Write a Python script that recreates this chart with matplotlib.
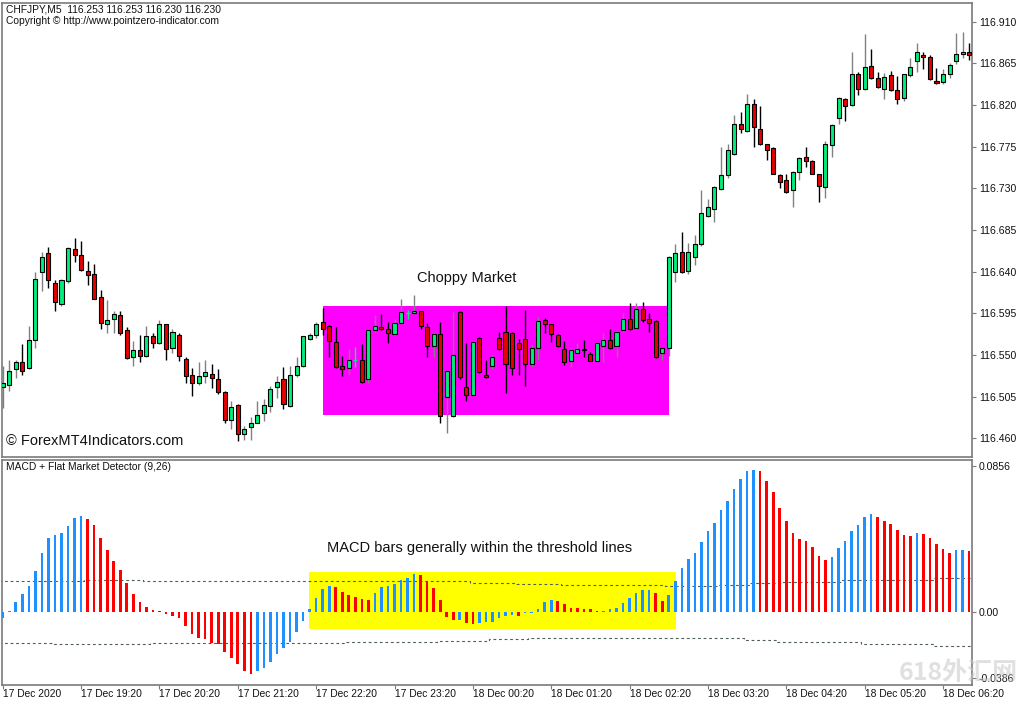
import numpy as np
import matplotlib
matplotlib.use('Agg')
import matplotlib.pyplot as plt
from matplotlib.patches import Rectangle

plt.rcParams['font.family'] = ['Liberation Sans', 'DejaVu Sans']

# ---------------- data ----------------
open_ = [116.515, 116.518, 116.535, 116.542, 116.536, 116.566, 116.640, 116.660, 116.628, 116.605,
         116.630, 116.665, 116.658, 116.641, 116.638, 116.613, 116.583, 116.589, 116.593, 116.577,
         116.548, 116.555, 116.549, 116.570, 116.563, 116.583, 116.557, 116.572, 116.546, 116.528,
         116.520, 116.527, 116.529, 116.524, 116.510, 116.480, 116.496, 116.465, 116.472, 116.477,
         116.487, 116.495, 116.515, 116.524, 116.495, 116.528, 116.538, 116.567, 116.572, 116.586,
         116.581, 116.564, 116.538, 116.536, 116.545, 116.545, 116.524, 116.577, 116.580, 116.578,
         116.573, 116.585, 116.595, 116.595, 116.597, 116.580, 116.560, 116.573, 116.505, 116.484,
         116.596, 116.515, 116.507, 116.568, 116.528, 116.538, 116.568, 116.575, 116.574, 116.563,
         116.567, 116.540, 116.557, 116.588, 116.583, 116.572, 116.556, 116.544, 116.552, 116.556,
         116.551, 116.544, 116.560, 116.566, 116.560, 116.577, 116.589, 116.579, 116.600, 116.589,
         116.587, 116.552, 116.557, 116.640, 116.661, 116.641, 116.656, 116.670, 116.700, 116.708,
         116.729, 116.744, 116.767, 116.800, 116.792, 116.821, 116.794, 116.778, 116.774, 116.744,
         116.739, 116.728, 116.748, 116.764, 116.760, 116.745, 116.731, 116.777, 116.806, 116.827,
         116.820, 116.853, 116.837, 116.862, 116.849, 116.837, 116.852, 116.836, 116.828, 116.852,
         116.868, 116.874, 116.872, 116.846, 116.845, 116.853, 116.868, 116.875, 116.877]
high = [116.538, 116.545, 116.545, 116.562, 116.581, 116.640, 116.661, 116.667, 116.631, 116.632,
        116.667, 116.676, 116.673, 116.651, 116.648, 116.620, 116.609, 116.598, 116.598, 116.580,
        116.565, 116.572, 116.581, 116.574, 116.588, 116.584, 116.578, 116.574, 116.548, 116.536,
        116.542, 116.545, 116.540, 116.535, 116.511, 116.500, 116.497, 116.473, 116.483, 116.500,
        116.502, 116.516, 116.527, 116.537, 116.538, 116.548, 116.571, 116.574, 116.586, 116.601,
        116.582, 116.580, 116.549, 116.556, 116.559, 116.562, 116.578, 116.593, 116.594, 116.586,
        116.589, 116.610, 116.599, 116.615, 116.598, 116.585, 116.575, 116.586, 116.534, 116.596,
        116.597, 116.563, 116.565, 116.569, 116.545, 116.550, 116.575, 116.603, 116.575, 116.567,
        116.599, 116.561, 116.591, 116.590, 116.584, 116.573, 116.565, 116.557, 116.563, 116.566,
        116.553, 116.564, 116.574, 116.578, 116.577, 116.595, 116.606, 116.606, 116.607, 116.595,
        116.588, 116.558, 116.657, 116.670, 116.683, 116.671, 116.680, 116.728, 116.718, 116.732,
        116.775, 116.778, 116.809, 116.812, 116.832, 116.827, 116.819, 116.778, 116.775, 116.746,
        116.746, 116.749, 116.764, 116.775, 116.761, 116.746, 116.781, 116.799, 116.829, 116.828,
        116.877, 116.856, 116.897, 116.881, 116.856, 116.855, 116.857, 116.851, 116.854, 116.871,
        116.887, 116.877, 116.874, 116.860, 116.859, 116.865, 116.898, 116.899, 116.887]
low = [116.493, 116.511, 116.525, 116.528, 116.535, 116.558, 116.619, 116.622, 116.598, 116.603,
       116.628, 116.650, 116.641, 116.626, 116.610, 116.578, 116.574, 116.574, 116.572, 116.546,
       116.538, 116.542, 116.548, 116.557, 116.562, 116.545, 116.552, 116.543, 116.520, 116.506,
       116.518, 116.520, 116.514, 116.508, 116.477, 116.470, 116.457, 116.458, 116.458, 116.476,
       116.479, 116.488, 116.504, 116.492, 116.494, 116.526, 116.537, 116.566, 116.568, 116.572,
       116.548, 116.536, 116.527, 116.529, 116.537, 116.520, 116.520, 116.575, 116.577, 116.563,
       116.572, 116.584, 116.589, 116.594, 116.578, 116.548, 116.548, 116.476, 116.466, 116.483,
       116.524, 116.500, 116.506, 116.531, 116.525, 116.535, 116.555, 116.509, 116.528, 116.528,
       116.517, 116.537, 116.545, 116.574, 116.564, 116.559, 116.539, 116.537, 116.551, 116.548,
       116.543, 116.543, 116.542, 116.556, 116.548, 116.575, 116.577, 116.578, 116.586, 116.575,
       116.547, 116.545, 116.549, 116.629, 116.639, 116.638, 116.647, 116.668, 116.699, 116.694,
       116.728, 116.741, 116.766, 116.790, 116.791, 116.775, 116.777, 116.761, 116.745, 116.730,
       116.725, 116.710, 116.739, 116.753, 116.745, 116.715, 116.720, 116.764, 116.800, 116.803,
       116.819, 116.831, 116.836, 116.848, 116.838, 116.827, 116.835, 116.821, 116.824, 116.850,
       116.856, 116.859, 116.847, 116.843, 116.843, 116.849, 116.864, 116.871, 116.869]
close = [116.520, 116.533, 116.542, 116.533, 116.566, 116.632, 116.656, 116.631, 116.607, 116.631,
         116.666, 116.658, 116.642, 116.636, 116.611, 116.585, 116.588, 116.594, 116.574, 116.547,
         116.555, 116.549, 116.571, 116.563, 116.583, 116.556, 116.575, 116.549, 116.527, 116.520,
         116.527, 116.532, 116.525, 116.510, 116.480, 116.494, 116.465, 116.470, 116.476, 116.485,
         116.496, 116.513, 116.521, 116.497, 116.528, 116.538, 116.570, 116.572, 116.583, 116.578,
         116.565, 116.537, 116.535, 116.545, 116.545, 116.521, 116.577, 116.581, 116.578, 116.574,
         116.585, 116.596, 116.595, 116.597, 116.581, 116.560, 116.573, 116.484, 116.533, 116.550,
         116.526, 116.507, 116.564, 116.532, 116.526, 116.548, 116.556, 116.540, 116.536, 116.556,
         116.540, 116.557, 116.587, 116.583, 116.573, 116.560, 116.542, 116.555, 116.556, 116.555,
         116.544, 116.563, 116.566, 116.557, 116.575, 116.589, 116.578, 116.600, 116.588, 116.585,
         116.548, 116.557, 116.656, 116.660, 116.640, 116.661, 116.670, 116.703, 116.710, 116.731,
         116.744, 116.771, 116.800, 116.794, 116.821, 116.796, 116.778, 116.771, 116.746, 116.737,
         116.726, 116.748, 116.763, 116.760, 116.746, 116.732, 116.778, 116.798, 116.828, 116.819,
         116.853, 116.837, 116.861, 116.849, 116.839, 116.850, 116.836, 116.827, 116.853, 116.861,
         116.877, 116.872, 116.848, 116.844, 116.853, 116.863, 116.875, 116.877, 116.874]

macd = [-0.0035, 0.0006, 0.0062, 0.0105, 0.0152, 0.0240, 0.0348, 0.0437, 0.0454, 0.0464,
        0.0506, 0.0552, 0.0565, 0.0545, 0.0512, 0.0437, 0.0365, 0.0300, 0.0248, 0.0174,
        0.0105, 0.0058, 0.0033, 0.0014, 0.0008, -0.0008, -0.0020, -0.0035, -0.0078, -0.0129,
        -0.0148, -0.0158, -0.0177, -0.0186, -0.0230, -0.0265, -0.0305, -0.0344, -0.0363, -0.0343,
        -0.0328, -0.0289, -0.0246, -0.0207, -0.0172, -0.0117, -0.0051, 0.0020, 0.0082, 0.0137,
        0.0154, 0.0146, 0.0121, 0.0101, 0.0088, 0.0076, 0.0072, 0.0115, 0.0148, 0.0156,
        0.0164, 0.0189, 0.0203, 0.0224, 0.0218, 0.0183, 0.0144, 0.0072, -0.0029, -0.0045,
        -0.0043, -0.0060, -0.0070, -0.0062, -0.0058, -0.0055, -0.0035, -0.0021, -0.0016, -0.0019,
        -0.0006, -0.0002, 0.0018, 0.0060, 0.0072, 0.0068, 0.0047, 0.0027, 0.0023, 0.0022,
        0.0018, 0.0006, 0.0008, 0.0018, 0.0027, 0.0057, 0.0086, 0.0111, 0.0131, 0.0133,
        0.0111, 0.0066, 0.0101, 0.0184, 0.0259, 0.0310, 0.0347, 0.0413, 0.0476, 0.0521,
        0.0596, 0.0653, 0.0723, 0.0782, 0.0829, 0.0835, 0.0825, 0.0768, 0.0702, 0.0608,
        0.0532, 0.0462, 0.0427, 0.0415, 0.0380, 0.0328, 0.0304, 0.0322, 0.0376, 0.0415,
        0.0476, 0.0509, 0.0556, 0.0577, 0.0560, 0.0536, 0.0515, 0.0480, 0.0450, 0.0449,
        0.0462, 0.0456, 0.0433, 0.0398, 0.0371, 0.0345, 0.0363, 0.0367, 0.0357]

# flat-market threshold lines (bar index where each level starts, level)
upper_start = [0, 13, 22, 72, 79, 86, 102, 110, 115, 120, 129, 143]
upper_level = [0.0185, 0.0189, 0.0184, 0.0172, 0.0166, 0.0157, 0.0155, 0.0160, 0.0170, 0.0179, 0.0188, 0.0199]
lower_start = [0, 8, 23, 53, 67, 75, 81, 114, 119, 132, 143]
lower_level = [-0.0181, -0.0187, -0.0181, -0.0176, -0.0168, -0.0157, -0.0149, -0.0162, -0.0176, -0.0187, -0.0195]

price_ticks = [116.910, 116.865, 116.820, 116.775, 116.730, 116.685, 116.640,
               116.595, 116.550, 116.505, 116.460]
macd_ticks = [0.0856, 0.0, -0.0386]
macd_tick_labels = ['0.0856', '0.00', '-0.0386']
time_tick_bars = [0, 12, 24, 36, 48, 60, 72, 84, 96, 108, 120, 132, 144]
time_labels = ['17 Dec 2020', '17 Dec 19:20', '17 Dec 20:20', '17 Dec 21:20', '17 Dec 22:20',
               '17 Dec 23:20', '18 Dec 00:20', '18 Dec 01:20', '18 Dec 02:20', '18 Dec 03:20',
               '18 Dec 04:20', '18 Dec 05:20', '18 Dec 06:20']

# annotation zones
choppy_bars = (49, 102)
choppy_prices = (116.485, 116.603)
flat_bars = (46.95, 103.05)
flat_values = (-0.0099, 0.0234)

# ---------------- figure ----------------
W, H = 1024, 704
fig = plt.figure(figsize=(W / 100, H / 100), dpi=100)
fig.patch.set_facecolor('white')


def px_axes(x0, y0, x1, y1):
    return fig.add_axes([x0 / W, 1 - y1 / H, (x1 - x0) / W, (y1 - y0) / H])


ax = px_axes(2, 3, 972, 457)
ax2 = px_axes(2, 460, 972, 685)

GREEN = '#00EE7A'
RED = '#E80000'
BLUE = '#1E90FF'
MRED = '#FF0000'
FRAME = '#7a7a7a'

o = np.array(open_)
h = np.array(high)
l = np.array(low)
c = np.array(close)
n = len(o)
x = np.arange(n)

for a in (ax, ax2):
    a.set_xlim(-0.11, 148.44)
    for s in a.spines.values():
        s.set_color(FRAME)
        s.set_linewidth(1.2)

ax.set_ylim(116.4398, 116.9302)
ax2.set_ylim(-0.04254, 0.0891)

# choppy-market box
ax.add_patch(Rectangle((choppy_bars[0], choppy_prices[0]), choppy_bars[1] - choppy_bars[0],
                       choppy_prices[1] - choppy_prices[0], facecolor='#FF00FF',
                       edgecolor='none', zorder=1))

# candles
bull = c >= o
doji = c == o
wick_cols = np.where(doji, GREEN, np.where(bull, '#808080', '#000000'))
ax.vlines(x, l, h, colors=wick_cols, linewidth=1.0, zorder=3)
body_cols = np.where(bull, GREEN, RED)
nd = ~doji
ax.bar(x[nd], np.abs(c - o)[nd], bottom=np.minimum(o, c)[nd], width=0.62,
       color=body_cols[nd], edgecolor='black', linewidth=0.8, zorder=4)
ax.hlines(c[doji], x[doji] - 0.31, x[doji] + 0.31, colors=GREEN, linewidth=1.0, zorder=4)

ax.text(71, 116.633, 'Choppy Market', ha='center', va='center', fontsize=10.5, color='#111111')

# MACD pane
ax2.add_patch(Rectangle((flat_bars[0], flat_values[0]), flat_bars[1] - flat_bars[0],
                        flat_values[1] - flat_values[0], facecolor='#FFFF00',
                        edgecolor='none', zorder=1))
m = np.array(macd)
rising = np.r_[True, m[1:] > m[:-1]]
ax2.bar(x, m, width=0.40, color=np.where(rising, BLUE, MRED), zorder=3)

ut = np.repeat(upper_level, np.diff(np.r_[upper_start, n]))
lt = np.repeat(lower_level, np.diff(np.r_[lower_start, n]))
xs = np.r_[-0.6, x, n - 0.4]
for lvl in (ut, lt):
    ys = np.r_[lvl[0], lvl, lvl[-1]]
    ax2.plot(xs, ys, drawstyle='steps-mid', color='#4f5f55', linewidth=0.8,
             linestyle=(0, (2.5, 2.5)), zorder=2)

ax2.text(73, 0.0376, 'MACD bars generally within the threshold lines', ha='center',
         va='center', fontsize=10.5, color='#111111')

# axes ticks
ax.yaxis.tick_right()
ax.set_yticks(price_ticks)
ax.set_yticklabels(['%.3f' % p for p in price_ticks])
ax.set_xticks([])
ax.tick_params(axis='y', direction='out', length=3, width=0.8, color=FRAME,
               labelsize=7.6, pad=2, labelcolor='#111111')

ax2.yaxis.tick_right()
ax2.set_yticks(macd_ticks)
ax2.set_yticklabels(macd_tick_labels)
ax2.tick_params(axis='y', direction='out', length=3, width=0.8, color=FRAME,
                labelsize=7.6, pad=2, labelcolor='#111111')
ax2.set_xticks(time_tick_bars)
ax2.set_xticklabels(time_labels)
ax2.tick_params(axis='x', direction='out', length=3, width=0.8, color=FRAME,
                labelsize=7.4, pad=0, labelcolor='#111111')
for lab in ax2.get_xticklabels():
    lab.set_horizontalalignment('left')

# header texts
fig.text(6 / W, 1 - 10 / H, 'CHFJPY,M5  116.253 116.253 116.230 116.230', fontsize=7.4,
         va='center', ha='left', color='#111111')
fig.text(6 / W, 1 - 21 / H, 'Copyright \u00a9 http://www.pointzero-indicator.com', fontsize=7.4,
         va='center', ha='left', color='#111111')
fig.text(6 / W, 1 - 441 / H, '\u00a9 ForexMT4Indicators.com', fontsize=10.5,
         va='center', ha='left', color='#111111')
fig.text(6 / W, 1 - 467 / H, 'MACD + Flat Market Detector (9,26)', fontsize=7.4,
         va='center', ha='left', color='#111111')

# watermark (semi-transparent overlay, as in the reference)
fig.text(1018 / W, 1 - 673 / H, '618外汇网', fontsize=18, fontweight='bold',
         family=['Noto Sans CJK SC', 'DejaVu Sans'], color='#c8c8c8', alpha=0.55,
         ha='right', va='center', zorder=10)

fig.savefig('out.png', dpi=100, facecolor='white')
